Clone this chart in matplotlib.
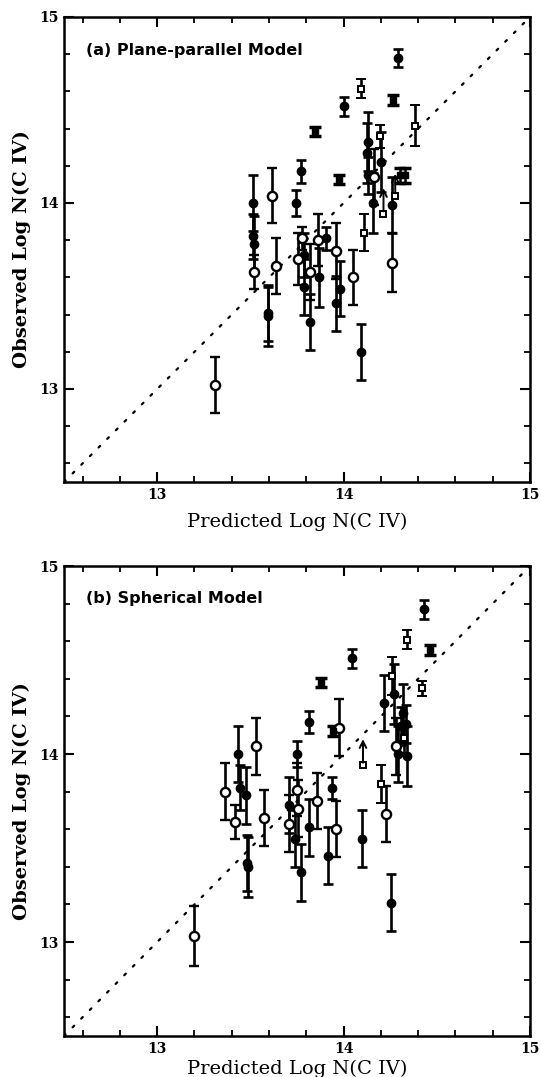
import matplotlib
matplotlib.use("Agg")
import matplotlib.pyplot as plt
from matplotlib.ticker import MultipleLocator, FixedLocator
import numpy as np

# ---------------- Panel (a): Plane-parallel model ----------------
a_fc_x = [13.512, 13.515, 13.520, 13.593, 13.597, 13.743, 13.773, 13.786, 13.786, 13.818,
          13.868, 13.908, 13.961, 13.980, 14.002, 14.091, 14.124, 14.129, 14.133, 14.160,
          14.200, 14.259, 14.293]
a_fc_y = [14.00, 13.82, 13.78, 13.41, 13.39, 14.00, 14.17, 13.72, 13.55, 13.36,
          13.60, 13.81, 13.46, 13.54, 14.52, 13.20, 14.27, 14.33, 14.15, 14.00,
          14.22, 13.99, 14.78]
a_fc_e = [0.15, 0.12, 0.15, 0.15, 0.16, 0.07, 0.06, 0.12, 0.15, 0.15,
          0.16, 0.06, 0.15, 0.15, 0.05, 0.15, 0.16, 0.16, 0.10, 0.16,
          0.16, 0.15, 0.05]

a_oc_x = [13.312, 13.520, 13.617, 13.635, 13.755, 13.779, 13.822, 13.863, 13.957, 14.052, 14.164, 14.259]
a_oc_y = [13.02, 13.63, 14.04, 13.66, 13.70, 13.81, 13.63, 13.80, 13.74, 13.60, 14.14, 13.68]
a_oc_e = [0.15, 0.09, 0.15, 0.15, 0.14, 0.06, 0.15, 0.14, 0.15, 0.15, 0.15, 0.16]

a_os_x = [14.093, 14.196, 14.385, 14.111]
a_os_y = [14.615, 14.358, 14.415, 13.840]
a_os_e = [0.05, 0.06, 0.11, 0.10]

a_fs_x = [13.845, 13.975, 14.265, 14.300, 14.330]
a_fs_y = [14.385, 14.127, 14.553, 14.150, 14.150]
a_fs_e = [0.025, 0.025, 0.025, 0.04, 0.04]

a_lim_x = [14.214, 14.277]
a_lim_y = [13.940, 14.037]
a_lim_len = [0.14, 0.12]

# ---------------- Panel (b): Spherical model ----------------
b_fc_x = [13.431, 13.444, 13.474, 13.483, 13.487, 13.706, 13.738, 13.751, 13.770, 13.812,
          13.812, 13.914, 13.937, 14.045, 14.097, 14.216, 14.253, 14.268, 14.290, 14.320,
          14.310, 14.335, 14.342, 14.431]
b_fc_y = [14.00, 13.82, 13.78, 13.42, 13.40, 13.73, 13.55, 14.00, 13.37, 13.61,
          14.17, 13.46, 13.82, 14.51, 13.55, 14.27, 13.21, 14.32, 14.00, 14.22,
          14.15, 14.16, 13.99, 14.77]
b_fc_e = [0.15, 0.12, 0.15, 0.15, 0.16, 0.15, 0.15, 0.07, 0.15, 0.15,
          0.06, 0.15, 0.06, 0.05, 0.15, 0.15, 0.15, 0.16, 0.15, 0.15,
          0.10, 0.10, 0.16, 0.05]

b_oc_x = [13.195, 13.366, 13.416, 13.528, 13.571, 13.706, 13.751, 13.757, 13.859, 13.961, 13.974, 14.230, 14.280]
b_oc_y = [13.03, 13.80, 13.64, 14.04, 13.66, 13.63, 13.81, 13.71, 13.75, 13.60, 14.14, 13.68, 14.04]
b_oc_e = [0.16, 0.15, 0.09, 0.15, 0.15, 0.15, 0.14, 0.15, 0.15, 0.15, 0.15, 0.15, 0.15]

b_os_x = [14.262, 14.342, 14.420, 14.203, 14.325]
b_os_y = [14.414, 14.609, 14.349, 13.842, 14.086]
b_os_e = [0.10, 0.05, 0.04, 0.10, 0.08]

b_fs_x = [13.877, 13.942, 14.463]
b_fs_y = [14.380, 14.123, 14.554]
b_fs_e = [0.025, 0.025, 0.025]

b_lim_x = [14.104]
b_lim_y = [13.939]
b_lim_len = [0.14]

major_ticks = [13, 14, 15]
tick_labels = ["13", "14", "15"]
axis_min, axis_max = 12.5, 15.0

panels = [
    dict(title="(a) Plane-parallel Model",
         fc=(a_fc_x, a_fc_y, a_fc_e), oc=(a_oc_x, a_oc_y, a_oc_e),
         os=(a_os_x, a_os_y, a_os_e), fs=(a_fs_x, a_fs_y, a_fs_e),
         lim=(a_lim_x, a_lim_y, a_lim_len),
         rect=[64/541, 1-482/1077, 466/541, 465/1077], ty=0.927, lp=8),
    dict(title="(b) Spherical Model",
         fc=(b_fc_x, b_fc_y, b_fc_e), oc=(b_oc_x, b_oc_y, b_oc_e),
         os=(b_os_x, b_os_y, b_os_e), fs=(b_fs_x, b_fs_y, b_fs_e),
         lim=(b_lim_x, b_lim_y, b_lim_len),
         rect=[64/541, 1-1036/1077, 466/541, 470/1077], ty=0.930, lp=3),
]

fig = plt.figure(figsize=(5.41, 10.77), dpi=100)
ebkw = dict(color="k", ecolor="k", elinewidth=1.9, capsize=3.6, capthick=1.9, linestyle="none")

for p in panels:
    ax = fig.add_axes(p["rect"])
    ax.plot([axis_min, axis_max], [axis_min, axis_max], color="k",
            linestyle=(0, (1, 4.5)), lw=1.6, dash_capstyle="round", zorder=1)

    x, y, e = p["fc"]
    ax.errorbar(x, y, yerr=e, fmt="o", ms=6.0, mfc="k", mec="k", zorder=3, **ebkw)
    x, y, e = p["oc"]
    ax.errorbar(x, y, yerr=e, fmt="o", ms=6.6, mfc="white", mec="k", mew=1.7, zorder=4, **ebkw)
    x, y, e = p["os"]
    ax.errorbar(x, y, yerr=e, fmt="s", ms=4.2, mfc="white", mec="k", mew=1.4, zorder=4, **ebkw)
    x, y, e = p["fs"]
    ax.errorbar(x, y, yerr=e, fmt="s", ms=5.0, mfc="k", mec="k", zorder=4,
                color="k", ecolor="k", elinewidth=1.8, capsize=4, capthick=2.5, linestyle="none")
    x, y, L = p["lim"]
    ax.plot(x, y, "s", ms=4.2, mfc="white", mec="k", mew=1.4, zorder=5, linestyle="none")
    for xi, yi, li in zip(x, y, L):
        ax.annotate("", xy=(xi, yi + li), xytext=(xi, yi + 0.015),
                    arrowprops=dict(arrowstyle="->", lw=1.4, color="k",
                                    shrinkA=0, shrinkB=0, mutation_scale=12), zorder=5)

    ax.set_xlim(axis_min, axis_max)
    ax.set_ylim(axis_min, axis_max)
    ax.xaxis.set_major_locator(FixedLocator(major_ticks))
    ax.yaxis.set_major_locator(FixedLocator(major_ticks))
    ax.xaxis.set_minor_locator(MultipleLocator(0.2))
    ax.yaxis.set_minor_locator(MultipleLocator(0.2))
    ax.set_xticklabels(tick_labels, fontfamily="DejaVu Serif", fontweight="bold", fontsize=10)
    ax.set_yticklabels(tick_labels, fontfamily="DejaVu Serif", fontweight="bold", fontsize=10)
    ax.tick_params(which="both", direction="in", top=True, right=True)
    ax.tick_params(which="major", length=7, width=1.5, pad=4)
    ax.tick_params(which="minor", length=4, width=1.3)
    for s in ax.spines.values():
        s.set_linewidth(1.8)

    ax.set_xlabel("Predicted Log N(C IV)", fontfamily="DejaVu Serif", fontsize=14, labelpad=p["lp"])
    ax.set_ylabel("Observed Log N(C IV)", fontfamily="DejaVu Serif", fontweight="bold",
                  fontsize=14, labelpad=6)
    ax.text(0.047, p["ty"], p["title"], transform=ax.transAxes, fontfamily="DejaVu Sans",
            fontweight="bold", fontsize=11.5, va="center", ha="left")

fig.savefig("out.png", dpi=100)
